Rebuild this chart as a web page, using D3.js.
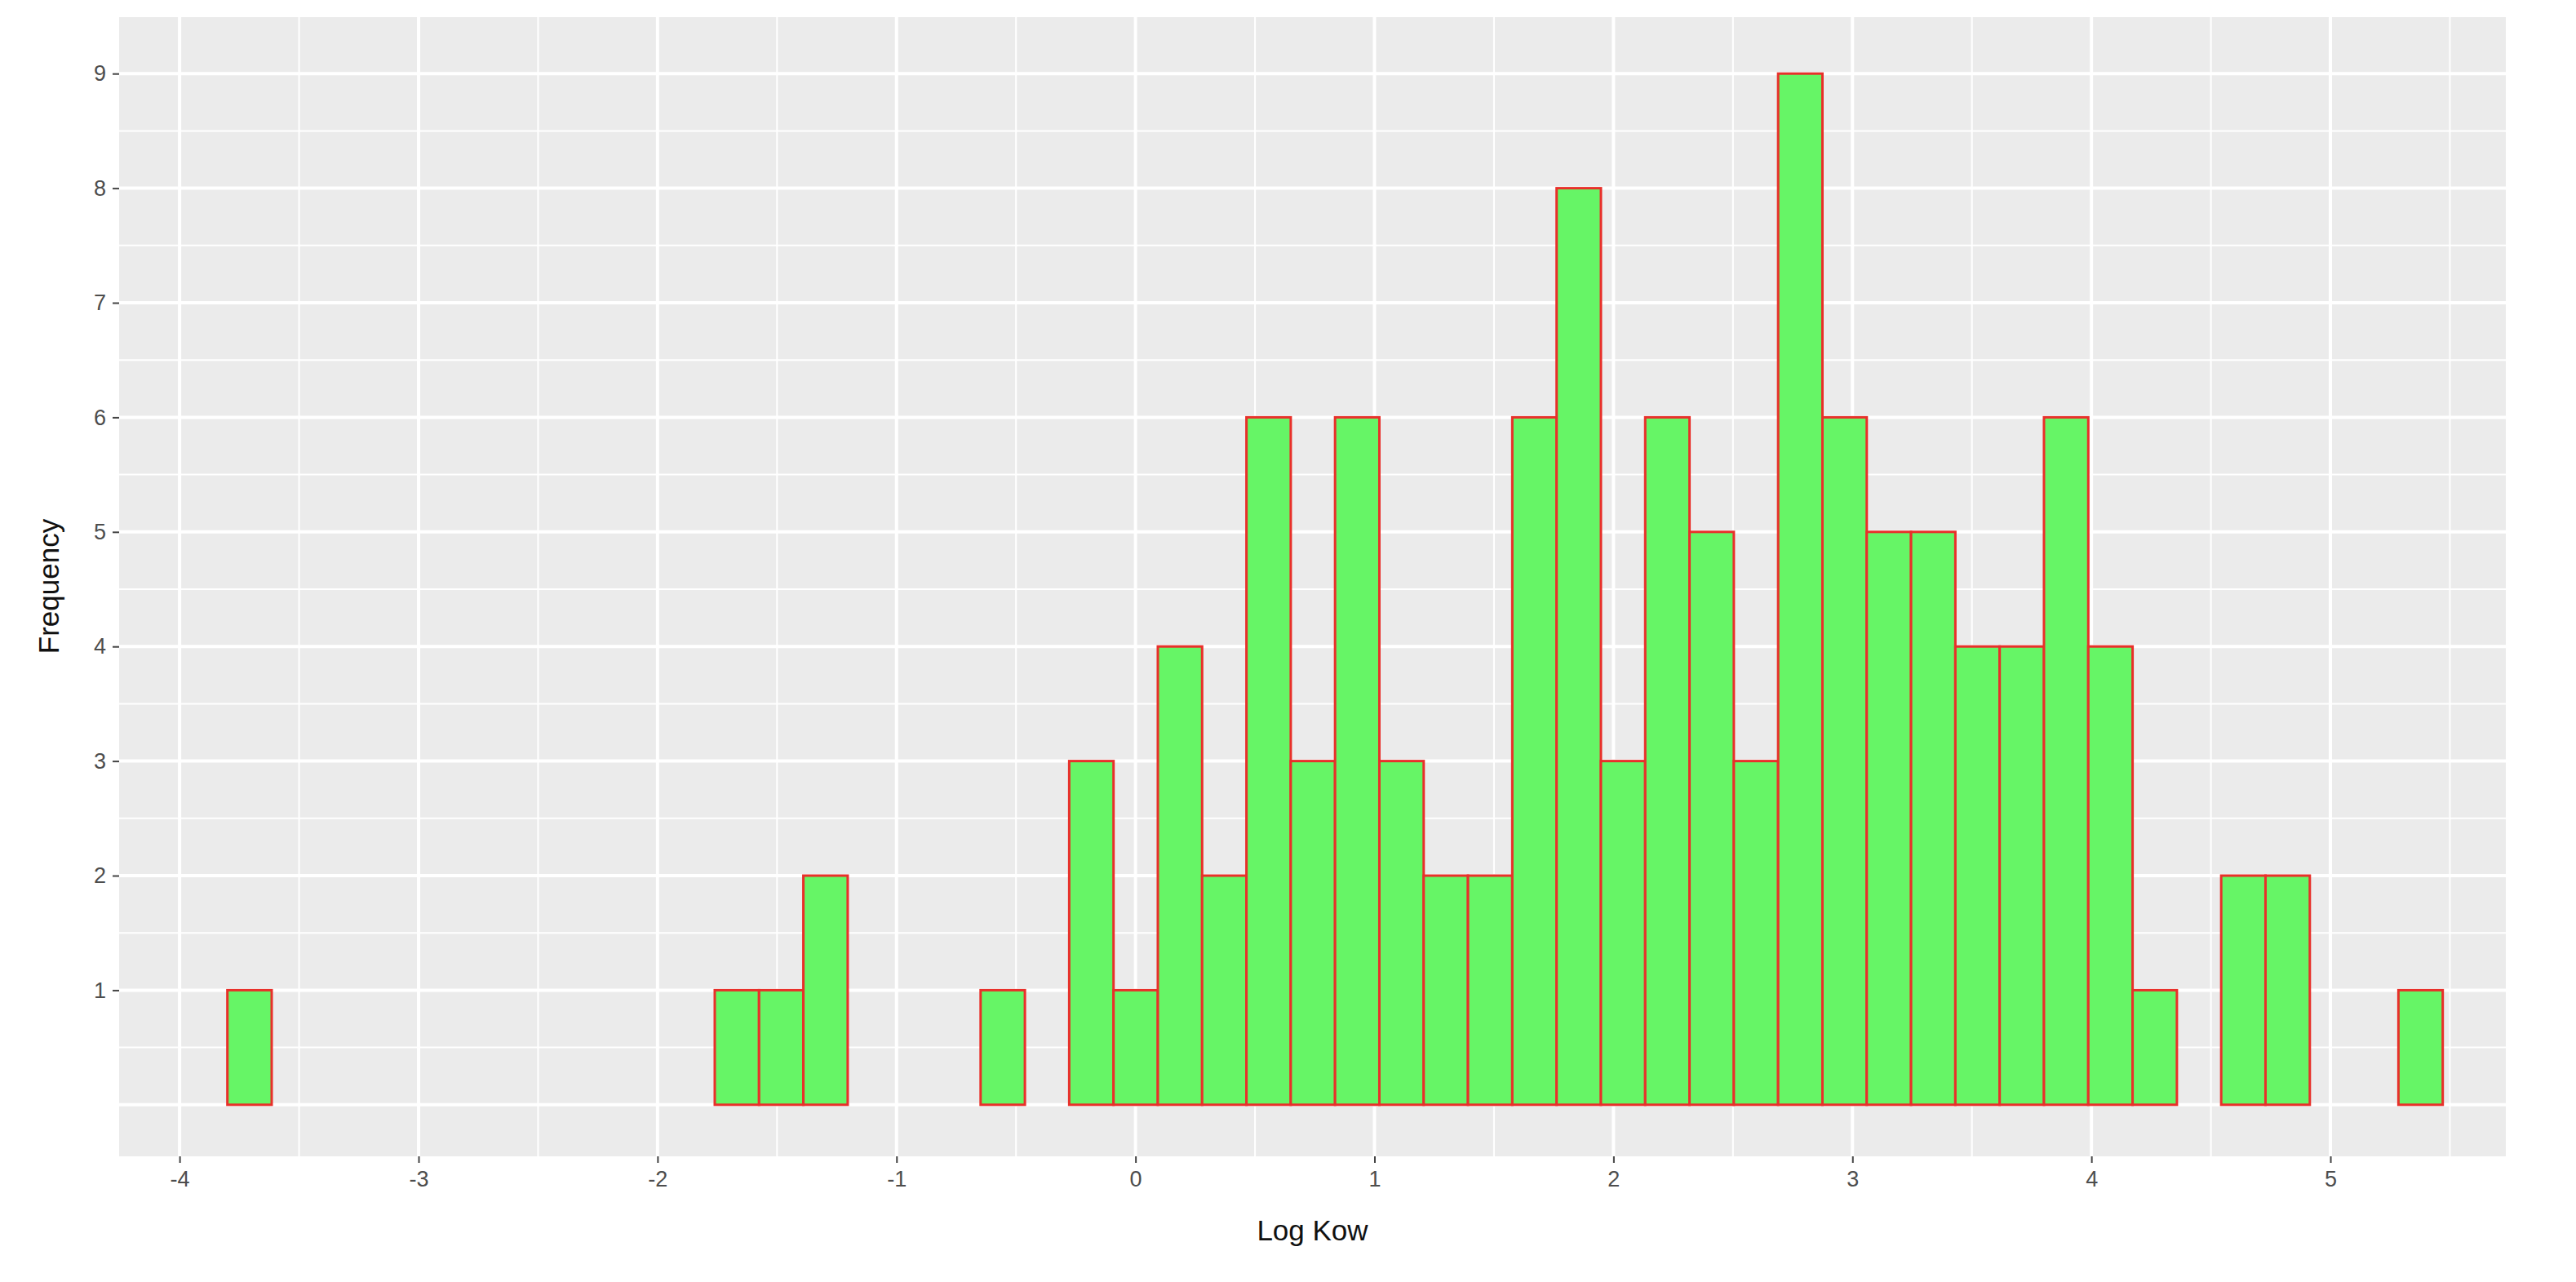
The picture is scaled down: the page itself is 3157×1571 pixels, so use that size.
<!DOCTYPE html><html><head><meta charset="utf-8">
<script src="https://cdn.jsdelivr.net/npm/d3@7"></script>
<style>body{margin:0;background:#fff}</style></head><body>
<svg id="c" width="3157" height="1571"></svg>
<script>
const binStart = -3.80, binEnd = 5.47;
const counts = [1,0,0,0,0,0,0,0,0,0,0,1,1,2,0,0,0,1,0,3,1,4,2,6,3,6,3,2,2,6,8,3,6,5,3,9,6,5,5,4,4,6,4,1,0,2,2,0,0,1];
const xTicks = [-4,-3,-2,-1,0,1,2,3,4,5];
const yTicks = [1,2,3,4,5,6,7,8,9];
const xLabel = "Log Kow", yLabel = "Frequency";

const svg = d3.select("#c");
const L=146,R=3071,T=20,B=1417;
const x = d3.scaleLinear().domain([-4.253,5.734]).range([L,R]);
const y = d3.scaleLinear().domain([-0.45,9.5]).range([B,T]);
const bw = (binEnd-binStart)/counts.length;
const bins = counts.map((c,i)=>({x0:binStart+i*bw,x1:binStart+(i+1)*bw,c}));

svg.append("rect").attr("x",L).attr("y",T).attr("width",R-L).attr("height",B-T).attr("fill","#ebebeb");
const g = svg.append("g");
const xMinor = d3.range(-4.5,6,1), yMinor = d3.range(0.5,9.6,1);
xMinor.forEach(v=>{ if(x(v)>L&&x(v)<R) g.append("line").attr("x1",x(v)).attr("x2",x(v)).attr("y1",T).attr("y2",B).attr("stroke","#fff").attr("stroke-width",2);});
yMinor.forEach(v=>g.append("line").attr("x1",L).attr("x2",R).attr("y1",y(v)).attr("y2",y(v)).attr("stroke","#fff").attr("stroke-width",2));
xTicks.forEach(v=>g.append("line").attr("x1",x(v)).attr("x2",x(v)).attr("y1",T).attr("y2",B).attr("stroke","#fff").attr("stroke-width",4));
[0].concat(yTicks).forEach(v=>g.append("line").attr("x1",L).attr("x2",R).attr("y1",y(v)).attr("y2",y(v)).attr("stroke","#fff").attr("stroke-width",4));

svg.append("g").selectAll("rect").data(bins).join("rect")
 .attr("x",d=>x(d.x0)).attr("width",d=>x(d.x1)-x(d.x0))
 .attr("y",d=>y(d.c)).attr("height",d=>y(0)-y(d.c))
 .attr("fill","#66f566").attr("stroke","#e8302a").attr("stroke-width",3);

const fmt = d=>String(d);
const xa = svg.append("g").attr("transform",`translate(0,${B})`)
 .call(d3.axisBottom(x).tickValues(xTicks).tickSize(8).tickPadding(10).tickFormat(fmt));
const ya = svg.append("g").attr("transform",`translate(${L},0)`)
 .call(d3.axisLeft(y).tickValues(yTicks).tickSize(8).tickPadding(8).tickFormat(fmt));
[xa,ya].forEach(a=>{a.select(".domain").remove();
 a.selectAll("line").attr("stroke","#444").attr("stroke-width",2);
 a.selectAll("text").attr("fill","#4d4d4d").style("font-family","Liberation Sans, Arial, sans-serif").style("font-size","27px");});
svg.append("text").attr("x",(L+R)/2).attr("y",1520).attr("text-anchor","middle")
 .style("font-family","Liberation Sans, Arial, sans-serif").style("font-size","35px").attr("fill","#111").text(xLabel);
svg.append("text").attr("transform",`translate(72,${(T+B)/2}) rotate(-90)`).attr("text-anchor","middle")
 .style("font-family","Liberation Sans, Arial, sans-serif").style("font-size","35px").attr("fill","#111").text(yLabel);
</script></body></html>
